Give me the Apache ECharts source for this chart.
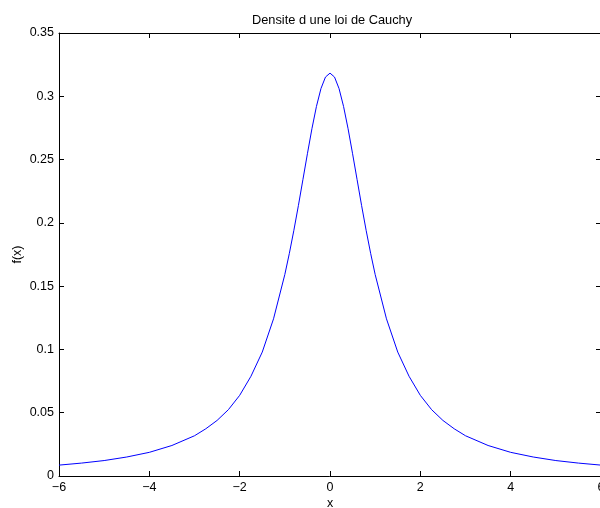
<!DOCTYPE html>
<html>
<head>
<meta charset="utf-8">
<script src="https://cdn.jsdelivr.net/npm/echarts@6/dist/echarts.min.js"></script>
<style>html,body{margin:0;padding:0;background:#fff}#c{width:600px;height:508px}</style>
</head>
<body>
<div id="c"></div>
<script>
// Values
var xValues = [-6,-5.5,-5,-4.5,-4,-3.5,-3,-2.75,-2.5,-2.25,-2,-1.75,-1.5,-1.25,-1,-0.9,-0.8,-0.7,-0.6,-0.5,-0.4,-0.3,-0.2,-0.1,0,0.1,0.2,0.3,0.4,0.5,0.6,0.7,0.8,0.9,1,1.25,1.5,1.75,2,2.25,2.5,2.75,3,3.5,4,4.5,5,5.5,6];
var fValues = [0.0086,0.0102,0.0122,0.0150,0.0187,0.0241,0.0318,0.0373,0.0439,0.0524,0.0637,0.0788,0.0979,0.1242,0.1592,0.1759,0.1941,0.2136,0.2341,0.2546,0.2744,0.2920,0.3061,0.3152,0.3183,0.3152,0.3061,0.2920,0.2744,0.2546,0.2341,0.2136,0.1941,0.1759,0.1592,0.1242,0.0979,0.0788,0.0637,0.0524,0.0439,0.0373,0.0318,0.0241,0.0187,0.0150,0.0122,0.0102,0.0086];
var titleText = 'Densite d une loi de Cauchy';
var xLabel = 'x';
var yLabel = 'f(x)';

var data = xValues.map(function(x, i){ return [x, fValues[i]]; });
var font = 'Liberation Sans, Arial, Helvetica, sans-serif';
var fs = 12.5;
var chart = echarts.init(document.getElementById('c'), null, {renderer:'canvas'});
var axisLine = {show:true, onZero:false, lineStyle:{color:'#000', width:1}};
var tick = {show:true, inside:true, length:5, lineStyle:{color:'#000'}};
chart.setOption({
  animation:false,
  backgroundColor:'#fff',
  title:{text:titleText, left:247, top:9,
    textStyle:{fontFamily:font, fontSize:12.8, fontWeight:'normal', color:'#000'}},
  grid:{left:59, top:33, width:542, height:443, containLabel:false, outerBoundsMode:'none'},
  xAxis:[
    {type:'value', min:-6, max:6, interval:2, position:'bottom',
     axisLine:axisLine, axisTick:tick, splitLine:{show:false},
     axisLabel:{color:'#000', fontFamily:font, fontSize:fs, margin:5,
       formatter:function(v){ return v<0 ? '\u2212'+Math.abs(v) : String(v); }},
     name:xLabel, nameLocation:'middle', nameGap:21, nameMoveOverlap:false,
     nameTextStyle:{color:'#000', fontFamily:font, fontSize:fs}},
    {type:'value', min:-6, max:6, interval:2, position:'top',
     axisLine:axisLine, axisTick:tick, axisLabel:{show:false}, splitLine:{show:false}}
  ],
  yAxis:[
    {type:'value', min:0, max:0.35, interval:0.05, position:'left',
     axisLine:axisLine, axisTick:tick, splitLine:{show:false},
     axisLabel:{color:'#000', fontFamily:font, fontSize:fs, margin:5,
       formatter:function(v){ return String(+v.toFixed(2)); }},
     name:yLabel, nameLocation:'middle', nameGap:35, nameRotate:90, nameMoveOverlap:false,
     nameTextStyle:{color:'#000', fontFamily:font, fontSize:fs}},
    {type:'value', min:0, max:0.35, interval:0.05, position:'right',
     axisLine:axisLine, axisTick:tick, axisLabel:{show:false}, splitLine:{show:false}}
  ],
  series:[{type:'line', data:data, showSymbol:false, smooth:false,
    lineStyle:{color:'#0000ff', width:1}, xAxisIndex:0, yAxisIndex:0}]
});
</script>
</body>
</html>
